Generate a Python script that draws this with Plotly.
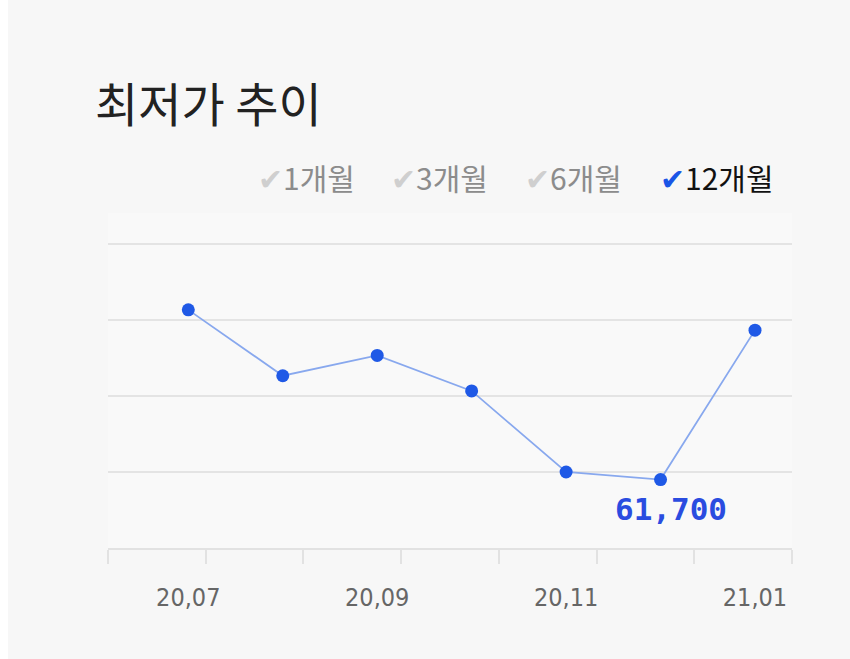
import plotly.graph_objects as go

# ---- data ----
months = ["20,07", "20,08", "20,09", "20,10", "20,11", "20,12", "21,01"]
prices = [68400, 65800, 66600, 65200, 62000, 61700, 67600]
tick_labels = ["20,07", "20,09", "20,11", "21,01"]
legend_items = ["1개월", "3개월", "6개월", "12개월"]
selected_item = "12개월"
title_text = "최저가 추이"

W, H = 850, 659
L, R, T, B = 108, 58, 213, 111
PW, PH = W - L - R, H - T - B

def px(x):
    return (x - L) / PW

def py(y):
    return (H - B - y) / PH

xs = list(range(len(months)))
min_i = prices.index(min(prices))

fig = go.Figure()
fig.add_trace(go.Scatter(
    x=xs, y=prices, mode="lines+markers",
    line=dict(color="#88a8ee", width=1.8),
    marker=dict(color="#1f59e6", size=13),
    hoverinfo="skip", showlegend=False,
))

fig.add_annotation(
    x=min_i, y=prices[min_i], xref="x", yref="y",
    text=f"<b>{prices[min_i]:,}</b>", showarrow=False,
    yshift=-29, xshift=10,
    font=dict(family="DejaVu Sans Mono", size=31, color="#2a4ce0"),
)

# title
fig.add_annotation(
    x=px(93), y=py(101), xref="paper", yref="paper", xanchor="left", yanchor="middle",
    text=title_text, showarrow=False,
    font=dict(family="Noto Sans CJK KR", size=47, color="#222222"),
)

# legend row
leg_x = [256, 389, 523, 658]
for lx, item in zip(leg_x, legend_items):
    sel = item == selected_item
    ccol = "#1a55e6" if sel else "#cfcfcf"
    tcol = "#111111" if sel else "#8c8c8c"
    fig.add_annotation(
        x=px(lx), y=py(177), xref="paper", yref="paper", xanchor="left", yanchor="middle",
        text=f"<span style='color:{ccol}'>✔</span><span style='color:{tcol}'>{item}</span>",
        showarrow=False,
        font=dict(family="Noto Sans CJK KR", size=30, color=tcol),
    )

# white strip at left edge of page
fig.add_shape(type="rect", xref="paper", yref="paper",
              x0=px(0), x1=px(8), y0=py(H), y1=py(0),
              fillcolor="#ffffff", line=dict(width=0), layer="below")

x_left = -(188.3 - 108) / 94.45
x_right = (792 - 188.3) / 94.45
step = (x_right - x_left) / 7
minor_vals = [x_left + i * step for i in range(8)]

fig.update_layout(
    width=W, height=H,
    margin=dict(l=L, r=R, t=T, b=B, pad=0),
    paper_bgcolor="#f7f7f7",
    plot_bgcolor="#f9f9f9",
    xaxis=dict(
        range=[x_left, x_right], tickmode="array",
        tickvals=[months.index(t) for t in tick_labels], ticktext=tick_labels,
        ticks="", showgrid=False, zeroline=False,
        showline=True, linecolor="#e2e2e2", linewidth=2,
        tickfont=dict(family="DejaVu Sans Condensed, DejaVu Sans, sans-serif", size=25, color="#666666"),
        ticklabelstandoff=26,
        minor=dict(tickmode="array", tickvals=minor_vals, ticks="outside",
                   ticklen=14, tickcolor="#e2e2e2", tickwidth=2, showgrid=False),
        fixedrange=True,
    ),
    yaxis=dict(
        range=[59000, 59000 + 3000 * PH / 76], tickmode="array",
        tickvals=[62000, 65000, 68000, 71000],
        showticklabels=False, ticks="", showgrid=True,
        gridcolor="#e4e4e4", gridwidth=2, zeroline=False, showline=False,
        fixedrange=True,
    ),
)

fig.write_html("out.html")
